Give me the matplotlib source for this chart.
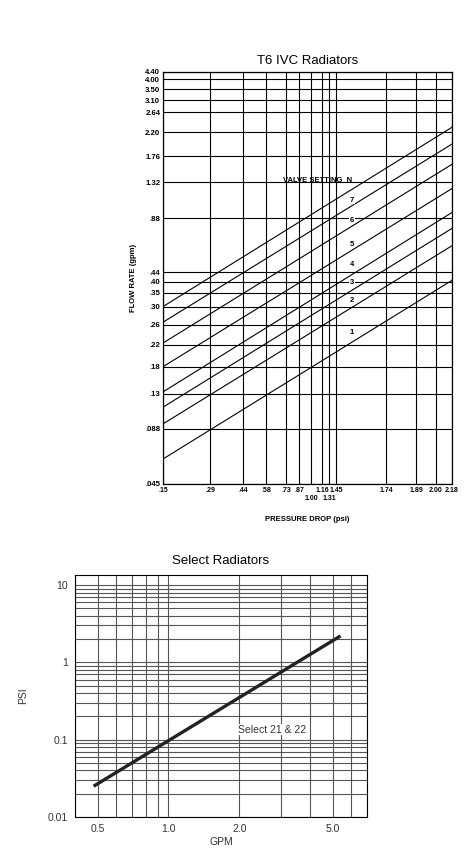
import numpy as np
import matplotlib
matplotlib.use("Agg")
import matplotlib.pyplot as plt
from matplotlib.ticker import FixedLocator, NullFormatter

# ---- Top chart data (T6 IVC Radiators) ----
y_tick_vals = [4.40, 4.00, 3.50, 3.10, 2.64, 2.20, 1.76, 1.32, .88, .44, .40, .35, .30, .26, .22, .18, .13, .088, .045]
y_tick_labels = ["4.40", "4.00", "3.50", "3.10", "2.64", "2.20", "1.76", "1.32", ".88", ".44", ".40", ".35", ".30", ".26", ".22", ".18", ".13", ".088", ".045"]
# chart calibration of the irregular printed scale (relative chart position of each grid line)
y_tick_pos = [73, 80, 90, 101, 113, 133, 157, 183, 219, 273, 282, 293, 307, 325, 345, 367, 394, 429, 484]
x_tick_vals = [.15, .29, .44, .58, .73, .87, 1.00, 1.16, 1.31, 1.45, 1.74, 1.89, 2.00, 2.18]
x_tick_labels = [".15", ".29", ".44", ".58", ".73", ".87", "\n1.00", "1.16", "\n1.31", "1.45", "1.74", "1.89", "2.00", "2.18"]
x_tick_pos = [163, 210, 243, 266, 286, 299, 311, 322, 329, 336, 386, 416, 436, 452]

settings = ["N", "7", "6", "5", "4", "3", "2", "1"]
flow_at_015 = [0.30, 0.265, 0.223, 0.18, 0.133, 0.112, 0.093, 0.061]
flow_at_218 = [2.30, 1.97, 1.61, 1.23, 0.94, 0.774, 0.62, 0.405]

# ---- Bottom chart data (Select Radiators) ----
gpm = [0.48, 5.4]
psi = [0.025, 2.2]

def make_scale(vals, pos, sign):
    lv = np.log(np.array(vals, float))
    p = sign * np.array(pos, float)
    order = np.argsort(lv)
    lv, p = lv[order], p[order]
    def fwd(v):
        v = np.clip(np.asarray(v, float), 1e-6, None)
        l = np.log(v)
        slope_lo = (p[1]-p[0])/(lv[1]-lv[0]); slope_hi = (p[-1]-p[-2])/(lv[-1]-lv[-2])
        out = np.interp(l, lv, p)
        out = np.where(l < lv[0], p[0] + (l-lv[0])*slope_lo, out)
        out = np.where(l > lv[-1], p[-1] + (l-lv[-1])*slope_hi, out)
        return out
    def inv(q):
        q = np.asarray(q, float)
        return np.exp(np.interp(q, p, lv))
    return fwd, inv

fig = plt.figure(figsize=(4.65, 8.59), dpi=100)
ff = ["Liberation Sans", "DejaVu Sans"]

ax = fig.add_axes([163/465, 1-484/859, 289/465, 412/859])
yf, yi = make_scale(y_tick_vals, y_tick_pos, -1)
xf, xi = make_scale(x_tick_vals, x_tick_pos, 1)
ax.set_yscale("function", functions=(yf, yi))
ax.set_xscale("function", functions=(xf, xi))
ax.set_xlim(.15, 2.18)
ax.set_ylim(.045, 4.40)
ax.yaxis.set_minor_formatter(NullFormatter())
ax.xaxis.set_minor_formatter(NullFormatter())
ax.set_yticks(y_tick_vals, y_tick_labels)
ax.set_xticks(x_tick_vals, x_tick_labels)
ax.tick_params(length=0, labelsize=5.6, pad=2)
for t in ax.get_xticklabels() + ax.get_yticklabels():
    t.set_fontweight("bold"); t.set_family(ff)
for t in ax.get_xticklabels():
    t.set_fontsize(5.0)
ax.grid(True, color="black", lw=0.8)
for s in ax.spines.values():
    s.set_linewidth(0.9)
for a, b in zip(flow_at_015, flow_at_218):
    ax.plot([.15, 2.18], [a, b], color="black", lw=0.8)
ax.set_title("T6 IVC Radiators", fontsize=9.5, family=ff, pad=6)
ax.set_ylabel("FLOW RATE (gpm)", fontsize=5.5, fontweight="bold", family=ff, labelpad=6)
ax.set_xlabel("PRESSURE DROP (psi)", fontsize=5.5, fontweight="bold", family=ff, labelpad=10)
ax.text((352-163)/289, 1-(180-72)/412, "VALVE SETTING  N", transform=ax.transAxes, ha="right",
        va="center", fontsize=5.5, fontweight="bold", family=ff)
lab_y = [200, 220, 244, 265, 283, 300, 333]
for s, yy in zip(settings[1:], lab_y):
    ax.text((352-163)/289, 1-(yy-72)/412, s, transform=ax.transAxes, ha="center", va="center",
            fontsize=5.5, fontweight="bold", family=ff,
            bbox=dict(facecolor="white", edgecolor="none", pad=0.3))

# ---- bottom ----
bx = fig.add_axes([75/465, 1-817/859, 292/465, 242/859])
bx.set_xscale("log"); bx.set_yscale("log")
bx.set_xlim(0.4, 7.0)
bx.set_ylim(0.01, 13.5)
bx.grid(True, which="both", color="#555555", lw=0.8)
bx.plot(gpm, psi, color="#222222", lw=2.4, solid_capstyle="butt")
bx.set_xticks([0.5, 1.0, 2.0, 5.0], ["0.5", "1.0", "2.0", "5.0"])
bx.set_yticks([0.01, 0.1, 1, 10], ["0.01", "0.1", "1", "10"])
bx.xaxis.set_minor_formatter(NullFormatter())
bx.yaxis.set_minor_formatter(NullFormatter())
bx.tick_params(which="both", length=0, labelsize=7.5, pad=5, labelcolor="#333333")
for t in bx.get_xticklabels() + bx.get_yticklabels():
    t.set_family(ff)
bx.set_xlabel("GPM", fontsize=7.5, family=ff, color="#333333", labelpad=2)
bx.set_ylabel("PSI", fontsize=7.5, family=ff, color="#333333", labelpad=14)
bx.set_title("Select Radiators", fontsize=9.5, family=ff, pad=8)
bx.text(2.75, 0.135, "Select 21 & 22", fontsize=7.5, family=ff, ha="center", va="center", color="#333333",
        bbox=dict(facecolor="white", edgecolor="none", pad=0.5))

fig.savefig("out.png", dpi=100)
